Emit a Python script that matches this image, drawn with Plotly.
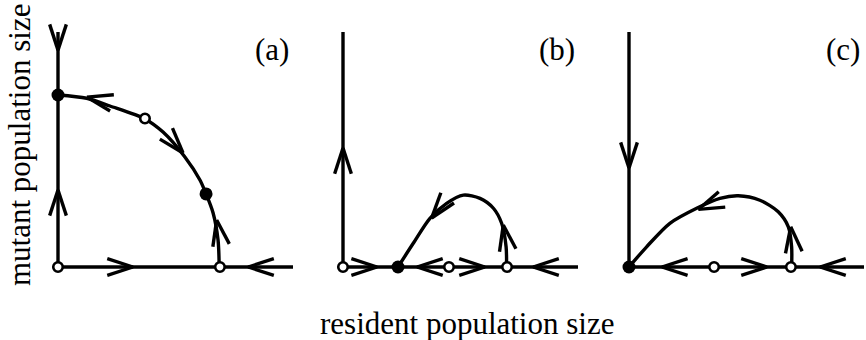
import math
import plotly.graph_objects as go

# ---------------- data (units: population size, panel-local) ----------------
panels = ["(a)", "(b)", "(c)"]

# axis extents drawn in each panel
axis_len_x = [1.0, 1.0, 1.0]
axis_len_y = [1.0, 1.0, 1.0]

# trajectories (resident, mutant)
curve_a_x = [0.0, 0.122, 0.221, 0.370, 0.447, 0.540, 0.604, 0.630, 0.660, 0.681, 0.686]
curve_a_y = [0.732, 0.718, 0.685, 0.630, 0.574, 0.468, 0.370, 0.311, 0.230, 0.115, 0.0]

curve_b_x = [0.234, 0.299, 0.370, 0.441, 0.512, 0.583, 0.640, 0.675, 0.694, 0.696]
curve_b_y = [0.0, 0.101, 0.207, 0.271, 0.306, 0.292, 0.250, 0.186, 0.086, 0.0]

curve_c_x = [0.0, 0.075, 0.174, 0.288, 0.387, 0.465, 0.557, 0.635, 0.678, 0.692, 0.692]
curve_c_y = [0.0, 0.086, 0.186, 0.250, 0.292, 0.303, 0.284, 0.235, 0.171, 0.086, 0.0]

# equilibria
stable_a_x = [0.0, 0.630]
stable_a_y = [0.732, 0.311]
unstable_a_x = [0.0, 0.370, 0.689]
unstable_a_y = [0.0, 0.632, 0.0]

stable_b_x = [0.234]
stable_b_y = [0.0]
unstable_b_x = [0.0, 0.451, 0.698]
unstable_b_y = [0.0, 0.0, 0.0]

stable_c_x = [0.0]
stable_c_y = [0.0]
unstable_c_x = [0.362, 0.689]
unstable_c_y = [0.0, 0.0]

# flow arrows: tip x, tip y, direction (degrees)
arrows_a_x = [0.0, 0.0, 0.319, 0.809, 0.123, 0.532, 0.675]
arrows_a_y = [0.923, 0.328, 0.0, 0.0, 0.723, 0.485, 0.200]
arrows_a_dir = [-90, 90, 0, 180, 167, -49, 100]

arrows_b_x = [0.0, 0.145, 0.315, 0.604, 0.809, 0.377, 0.682]
arrows_b_y = [0.506, 0.0, 0.0, 0.0, 0.0, 0.208, 0.179]
arrows_b_dir = [90, 0, 180, 0, 180, -128, 100]

arrows_c_x = [0.0, 0.140, 0.587, 0.813, 0.295, 0.688]
arrows_c_y = [0.421, 0.0, 0.0, 0.0, 0.245, 0.171]
arrows_c_dir = [-90, 180, 0, 180, -157, 97]

x_title = "resident population size"
y_title = "mutant population size"

# ---------------- layout constants ----------------
W, H = 866, 340
UNIT = 235.0                      # pixels per unit, both axes
origins_px = [(58, 267), (343, 267), (629, 267)]
XR = [-0.1, 1.005]
YR = [-0.1, 1.05]
ARM = 0.115                       # chevron arm length (units)
HALF = math.radians(18)           # chevron half-angle
LW = 3.4
FONT = "Liberation Serif, Times New Roman, serif"

curves = [(curve_a_x, curve_a_y), (curve_b_x, curve_b_y), (curve_c_x, curve_c_y)]
stables = [(stable_a_x, stable_a_y), (stable_b_x, stable_b_y), (stable_c_x, stable_c_y)]
unstables = [(unstable_a_x, unstable_a_y), (unstable_b_x, unstable_b_y), (unstable_c_x, unstable_c_y)]
arrows = [(arrows_a_x, arrows_a_y, arrows_a_dir),
          (arrows_b_x, arrows_b_y, arrows_b_dir),
          (arrows_c_x, arrows_c_y, arrows_c_dir)]

fig = go.Figure()
layout = dict(width=W, height=H, autosize=False,
              margin=dict(l=0, r=0, t=0, b=0),
              paper_bgcolor="white", plot_bgcolor="rgba(0,0,0,0)",
              showlegend=False, annotations=[])

for i in range(3):
    ox, oy = origins_px[i]
    xd = [(ox + XR[0] * UNIT) / W, (ox + XR[1] * UNIT) / W]
    yd = [(H - (oy - YR[0] * UNIT)) / H, (H - (oy - YR[1] * UNIT)) / H]
    sfx = "" if i == 0 else str(i + 1)
    xa, ya = "x" + sfx, "y" + sfx
    layout["xaxis" + sfx] = dict(domain=xd, range=XR, visible=False, anchor=ya, fixedrange=True)
    layout["yaxis" + sfx] = dict(domain=yd, range=YR, visible=False, anchor=xa, fixedrange=True)

    line = dict(color="black", width=LW)
    # axes
    fig.add_trace(go.Scatter(x=[0, axis_len_x[i]], y=[0, 0], mode="lines", line=line,
                             xaxis=xa, yaxis=ya, hoverinfo="skip"))
    fig.add_trace(go.Scatter(x=[0, 0], y=[0, axis_len_y[i]], mode="lines", line=line,
                             xaxis=xa, yaxis=ya, hoverinfo="skip"))
    # trajectory
    cx, cy = curves[i]
    fig.add_trace(go.Scatter(x=cx, y=cy, mode="lines",
                             line=dict(color="black", width=LW, shape="spline", smoothing=0.8),
                             xaxis=xa, yaxis=ya, hoverinfo="skip"))
    # chevrons
    ax_, ay_, ad_ = arrows[i]
    vx, vy = [], []
    for tx, ty, d in zip(ax_, ay_, ad_):
        t = math.radians(d)
        for s in (1, -1):
            vx += [tx - ARM * math.cos(t + s * HALF), tx, None]
            vy += [ty - ARM * math.sin(t + s * HALF), ty, None]
    fig.add_trace(go.Scatter(x=vx, y=vy, mode="lines", line=dict(color="black", width=LW),
                             xaxis=xa, yaxis=ya, hoverinfo="skip"))
    # equilibria
    sx, sy = stables[i]
    fig.add_trace(go.Scatter(x=sx, y=sy, mode="markers", cliponaxis=False,
                             marker=dict(size=13, color="black", line=dict(width=0)),
                             xaxis=xa, yaxis=ya, hoverinfo="skip"))
    ux, uy = unstables[i]
    fig.add_trace(go.Scatter(x=ux, y=uy, mode="markers", cliponaxis=False,
                             marker=dict(size=9.5, color="white", line=dict(width=2.6, color="black")),
                             xaxis=xa, yaxis=ya, hoverinfo="skip"))
    # panel label
    layout["annotations"].append(dict(text=panels[i], x=0.912, y=0.925, xref=xa, yref=ya,
                                      showarrow=False, xanchor="center", yanchor="middle",
                                      font=dict(family=FONT, size=31, color="black")))

layout["annotations"].append(dict(text=x_title, x=466.5 / W, y=(H - 323) / H, xref="paper", yref="paper",
                                  showarrow=False, xanchor="center", yanchor="middle",
                                  font=dict(family=FONT, size=31, color="black")))
layout["annotations"].append(dict(text=y_title, x=19 / W, y=(H - 145) / H, xref="paper", yref="paper",
                                  showarrow=False, xanchor="center", yanchor="middle", textangle=-90,
                                  font=dict(family=FONT, size=31, color="black")))

fig.update_layout(**layout)
fig.write_html("out.html", config={"displayModeBar": False, "staticPlot": True},
               post_script="document.body.style.margin='0';")
